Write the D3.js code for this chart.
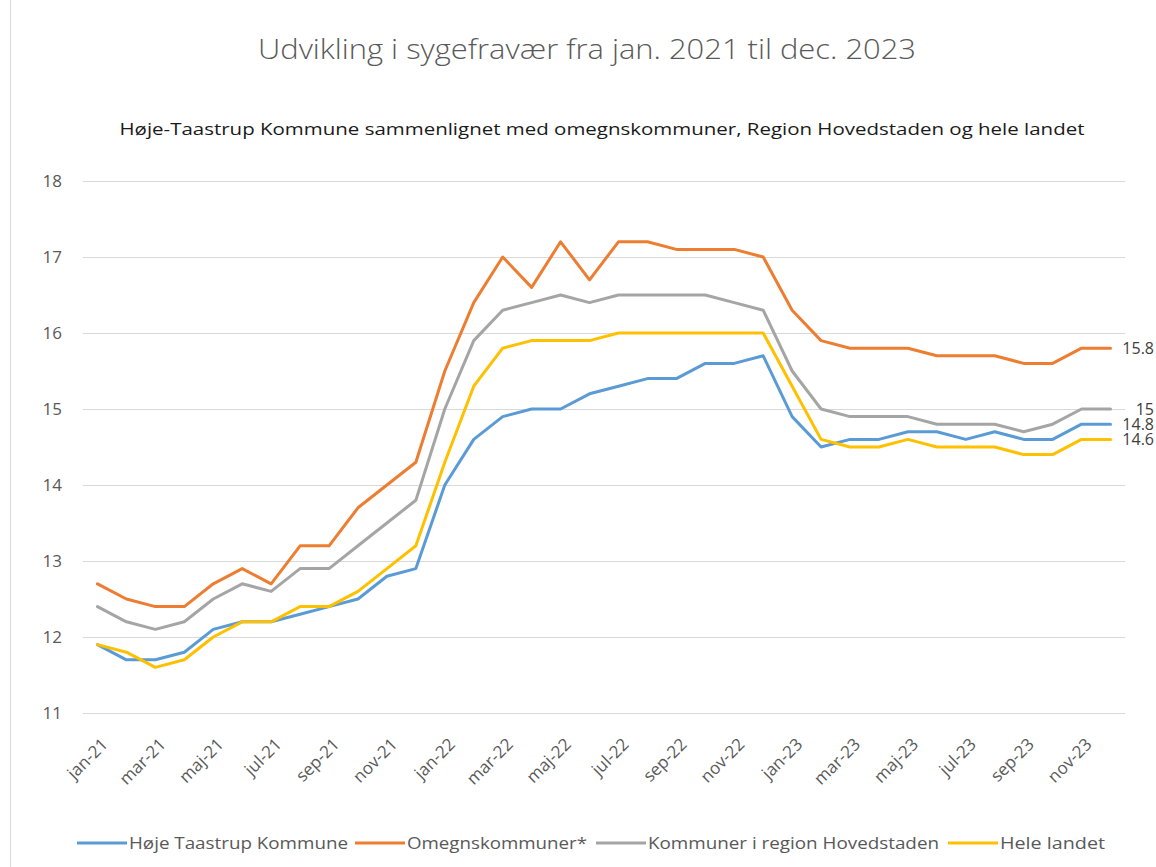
<!DOCTYPE html>
<html>
<head>
<meta charset="utf-8">
<script src="https://cdn.jsdelivr.net/npm/d3@7"></script>
<style>
  body { margin: 0; background: #fff; }
  svg { display: block; font-family: "Open Sans", sans-serif; }
</style>
</head>
<body>
<svg id="chart"></svg>
<script>
// Sygefravær jan. 2021 - dec. 2023

const months = [
  "jan-21", "feb-21", "mar-21", "apr-21", "maj-21", "jun-21", "jul-21", "aug-21", "sep-21", "okt-21", "nov-21", "dec-21",
  "jan-22", "feb-22", "mar-22", "apr-22", "maj-22", "jun-22", "jul-22", "aug-22", "sep-22", "okt-22", "nov-22", "dec-22",
  "jan-23", "feb-23", "mar-23", "apr-23", "maj-23", "jun-23", "jul-23", "aug-23", "sep-23", "okt-23", "nov-23", "dec-23"
];

const hoejeTaastrup = [
  11.9, 11.7, 11.7, 11.8, 12.1, 12.2, 12.2, 12.3, 12.4, 12.5, 12.8, 12.9,
  14.0, 14.6, 14.9, 15.0, 15.0, 15.2, 15.3, 15.4, 15.4, 15.6, 15.6, 15.7,
  14.9, 14.5, 14.6, 14.6, 14.7, 14.7, 14.6, 14.7, 14.6, 14.6, 14.8, 14.8
];
const omegn = [
  12.7, 12.5, 12.4, 12.4, 12.7, 12.9, 12.7, 13.2, 13.2, 13.7, 14.0, 14.3,
  15.5, 16.4, 17.0, 16.6, 17.2, 16.7, 17.2, 17.2, 17.1, 17.1, 17.1, 17.0,
  16.3, 15.9, 15.8, 15.8, 15.8, 15.7, 15.7, 15.7, 15.6, 15.6, 15.8, 15.8
];
const regionH = [
  12.4, 12.2, 12.1, 12.2, 12.5, 12.7, 12.6, 12.9, 12.9, 13.2, 13.5, 13.8,
  15.0, 15.9, 16.3, 16.4, 16.5, 16.4, 16.5, 16.5, 16.5, 16.5, 16.4, 16.3,
  15.5, 15.0, 14.9, 14.9, 14.9, 14.8, 14.8, 14.8, 14.7, 14.8, 15.0, 15.0
];
const heleLandet = [
  11.9, 11.8, 11.6, 11.7, 12.0, 12.2, 12.2, 12.4, 12.4, 12.6, 12.9, 13.2,
  14.3, 15.3, 15.8, 15.9, 15.9, 15.9, 16.0, 16.0, 16.0, 16.0, 16.0, 16.0,
  15.3, 14.6, 14.5, 14.5, 14.6, 14.5, 14.5, 14.5, 14.4, 14.4, 14.6, 14.6
];

const seriesNames = ["Høje Taastrup Kommune", "Omegnskommuner*", "Kommuner i region Hovedstaden", "Hele landet"];
const yTicks = [11, 12, 13, 14, 15, 16, 17, 18];

const title = "Udvikling i sygefravær fra jan. 2021 til dec. 2023";
const subtitle = "Høje-Taastrup Kommune sammenlignet med omegnskommuner, Region Hovedstaden og hele landet";

// office colours
const BLUE = "#5b9bd5", ORANGE = "#ed7d31", GREY = "#a5a5a5", GOLD = "#ffc000";
const TEXT = "#595959", GRID = "#d9d9d9";

const series = [
  { name: seriesNames[0], values: hoejeTaastrup, color: BLUE },
  { name: seriesNames[1], values: omegn, color: ORANGE },
  { name: seriesNames[2], values: regionH, color: GREY },
  { name: seriesNames[3], values: heleLandet, color: GOLD }
];

const W = 1156, H = 867;
const plot = { left: 83, right: 1125, top: 181, bottom: 713 };

const svg = d3.select("#chart").attr("width", W).attr("height", H);

// chart frame
svg.append("rect")
  .attr("x", 10.5).attr("y", -5).attr("width", 1200).attr("height", 900)
  .attr("fill", "#fff").attr("stroke", GRID);

const x = d3.scalePoint().domain(months).range([plot.left, plot.right]).padding(0.5);
const y = d3.scaleLinear().domain([11, 18]).range([plot.bottom, plot.top]);

// titles
svg.append("text")
  .attr("x", 587).attr("y", 59)
  .attr("text-anchor", "middle")
  .attr("font-size", 28).attr("font-weight", 300)
  .attr("fill", TEXT)
  .attr("textLength", 658).attr("lengthAdjust", "spacingAndGlyphs")
  .text(title);

svg.append("text")
  .attr("x", 602).attr("y", 135)
  .attr("text-anchor", "middle")
  .attr("font-size", 16.5)
  .attr("fill", "#1a1a1a")
  .attr("textLength", 965).attr("lengthAdjust", "spacingAndGlyphs")
  .text(subtitle);

// gridlines + y labels
const yAxis = svg.append("g")
  .attr("transform", `translate(${plot.left},0)`)
  .call(d3.axisLeft(y).tickValues(yTicks).tickSize(-(plot.right - plot.left)).tickPadding(21).tickFormat(d3.format("d")));
yAxis.select(".domain").remove();
yAxis.selectAll(".tick line").attr("stroke", GRID).attr("stroke-width", 1);
yAxis.selectAll(".tick text").attr("fill", TEXT).attr("font-size", 17).attr("font-family", "Open Sans, sans-serif");

// x labels, every other month
svg.append("g").selectAll("text")
  .data(months.filter((m, i) => i % 2 === 0))
  .join("text")
  .attr("transform", d => `translate(${x(d) + 3},${plot.bottom + 24}) rotate(-45)`)
  .attr("text-anchor", "end")
  .attr("dy", "0.7em")
  .attr("font-size", 17)
  .attr("fill", TEXT)
  .text(d => d);

// lines
const line = d3.line()
  .x((d, i) => x(months[i]))
  .y(d => y(d));

svg.append("g").selectAll("path")
  .data(series)
  .join("path")
  .attr("fill", "none")
  .attr("stroke", d => d.color)
  .attr("stroke-width", 3)
  .attr("stroke-linejoin", "round")
  .attr("stroke-linecap", "round")
  .attr("d", d => line(d.values));

// end labels
svg.append("g").selectAll("text")
  .data(series)
  .join("text")
  .attr("x", 1154)
  .attr("y", d => y(d.values[d.values.length - 1]))
  .attr("dy", "0.35em")
  .attr("text-anchor", "end")
  .attr("font-size", 16)
  .attr("fill", "#404040")
  .text(d => d3.format("")(d.values[d.values.length - 1]));

// legend
const legendX = [77, 355, 596, 948];
const legendW = [219, 180, 291, 105];
const legend = svg.append("g").attr("transform", "translate(0,843)");
series.forEach((s, i) => {
  legend.append("line")
    .attr("x1", legendX[i]).attr("x2", legendX[i] + 50)
    .attr("stroke", s.color).attr("stroke-width", 3);
  legend.append("text")
    .attr("x", legendX[i] + 52).attr("dy", "0.35em")
    .attr("font-size", 16).attr("fill", TEXT)
    .attr("textLength", legendW[i]).attr("lengthAdjust", "spacingAndGlyphs")
    .text(s.name);
});
</script>
</body>
</html>
